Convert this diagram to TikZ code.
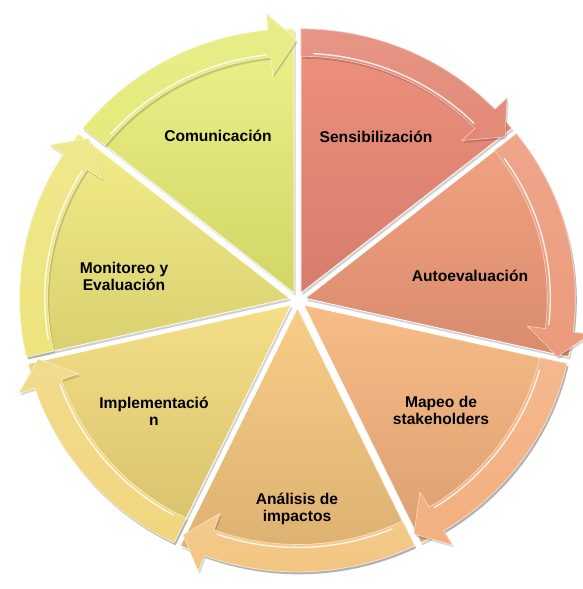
\documentclass[tikz,border=0pt]{standalone}
\usepackage{fontspec}
\setmainfont{Liberation Sans}
\begin{document}
\begin{tikzpicture}[x=1pt,y=1pt,
  lbl/.style={font=\bfseries\fontsize{15.6}{17}\selectfont, align=center, text=black, inner sep=0pt}]
\useasboundingbox (0,0) rectangle (582,-589);
\def\R{270}
\def\Ri{242}
\newcommand{\segm}[6]{%
  \pgfmathsetmacro{\bis}{(#1+#2)/2}
  \pgfmathsetmacro{\hb}{#2+5.5}
  \pgfmathsetmacro{\tp}{#2-0.5}
  \pgfmathsetmacro{\hl}{#1-3}
  \pgfmathsetmacro{\hr}{\hb+1}
  \begin{scope}[shift={(\bis:8pt)}]
    \fill[black,opacity=0.18] ([shift={(1.5,-2.5)}]0,0) -- ([shift={(1.5,-2.5)}]#1:\R pt) arc[start angle=#1,end angle=#2,radius=\R pt] -- cycle;
    \shade[top color=#3,bottom color=#4,draw=white,line width=0.8pt] (0,0) -- (#1:\R pt) arc[start angle=#1,end angle=#2,radius=\R pt] -- cycle;
    \fill[black,opacity=0.15] ([shift={(1.5,-2.5)}]#1:\R pt) arc[start angle=#1,end angle=\hb,radius=\R pt] -- ([shift={(1.5,-2.5)}]\hb:287pt) -- ([shift={(1.5,-2.5)}]\tp:259pt) -- ([shift={(1.5,-2.5)}]\hb:224pt) -- ([shift={(1.5,-2.5)}]\hb:\Ri pt) arc[start angle=\hb,end angle=#1,radius=\Ri pt] -- cycle;
    \shade[top color=#5!88!white,bottom color=#5,draw=white!60!#5,line width=0.6pt] (#1:\R pt) arc[start angle=#1,end angle=\hb,radius=\R pt] -- (\hb:287pt) -- (\tp:259pt) -- (\hb:224pt) -- (\hb:\Ri pt) arc[start angle=\hb,end angle=#1,radius=\Ri pt] -- cycle;
    \draw[white,opacity=0.85,line width=1.4pt,line cap=round] (\hl:245pt) arc[start angle=\hl,end angle=\hr,radius=245pt];
  \end{scope}
  #6
}
\begin{scope}[shift={(297.5,-300)},yscale=0.978]
  \definecolor{ta}{HTML}{EE917D}\definecolor{ba}{HTML}{D67D6C}\definecolor{ka}{HTML}{E38876}
  \definecolor{tb}{HTML}{F2A383}\definecolor{bb}{HTML}{D98B6D}\definecolor{kb}{HTML}{EC9A7C}
  \definecolor{tc}{HTML}{F8BC87}\definecolor{bc}{HTML}{DB9F71}\definecolor{kc}{HTML}{F3AF7F}
  \definecolor{td}{HTML}{F7CD87}\definecolor{bd}{HTML}{DAAE6E}\definecolor{kd}{HTML}{F2C47E}
  \definecolor{te}{HTML}{F4DE87}\definecolor{be}{HTML}{D8C06C}\definecolor{ke}{HTML}{F1D67E}
  \definecolor{tf}{HTML}{F2EC88}\definecolor{bf}{HTML}{D9D070}\definecolor{kf}{HTML}{EDE47D}
  \definecolor{tg}{HTML}{EDF18A}\definecolor{bg}{HTML}{D2D664}\definecolor{kg}{HTML}{E5EA7A}
  \segm{90}{38.5714}{ta}{ba}{ka}{}
  \segm{38.5714}{-12.8571}{tb}{bb}{kb}{}
  \segm{-12.8571}{-64.2857}{tc}{bc}{kc}{}
  \segm{-64.2857}{-115.7143}{td}{bd}{kd}{}
  \segm{-115.7143}{-167.1429}{te}{be}{ke}{}
  \segm{192.8571}{141.4286}{tf}{bf}{kf}{}
  \segm{141.4286}{90}{tg}{bg}{kg}{}
\end{scope}
\node[lbl] (sens) at (376,-137) {Sensibilización};
\node[lbl] (auto) at (470,-276) {Autoevaluación};
\node[lbl] (mapeo) at (441,-410) {Mapeo de\\stakeholders};
\node[lbl] (anal) at (297,-509) {Análisis de\\impactos};
\node[lbl] (impl) at (154,-411) {Implementació\\n};
\node[lbl] (moni) at (124,-276) {Monitoreo y\\Evaluación};
\node[lbl] (comu) at (218,-136) {Comunicación};
\end{tikzpicture}
\end{document}
